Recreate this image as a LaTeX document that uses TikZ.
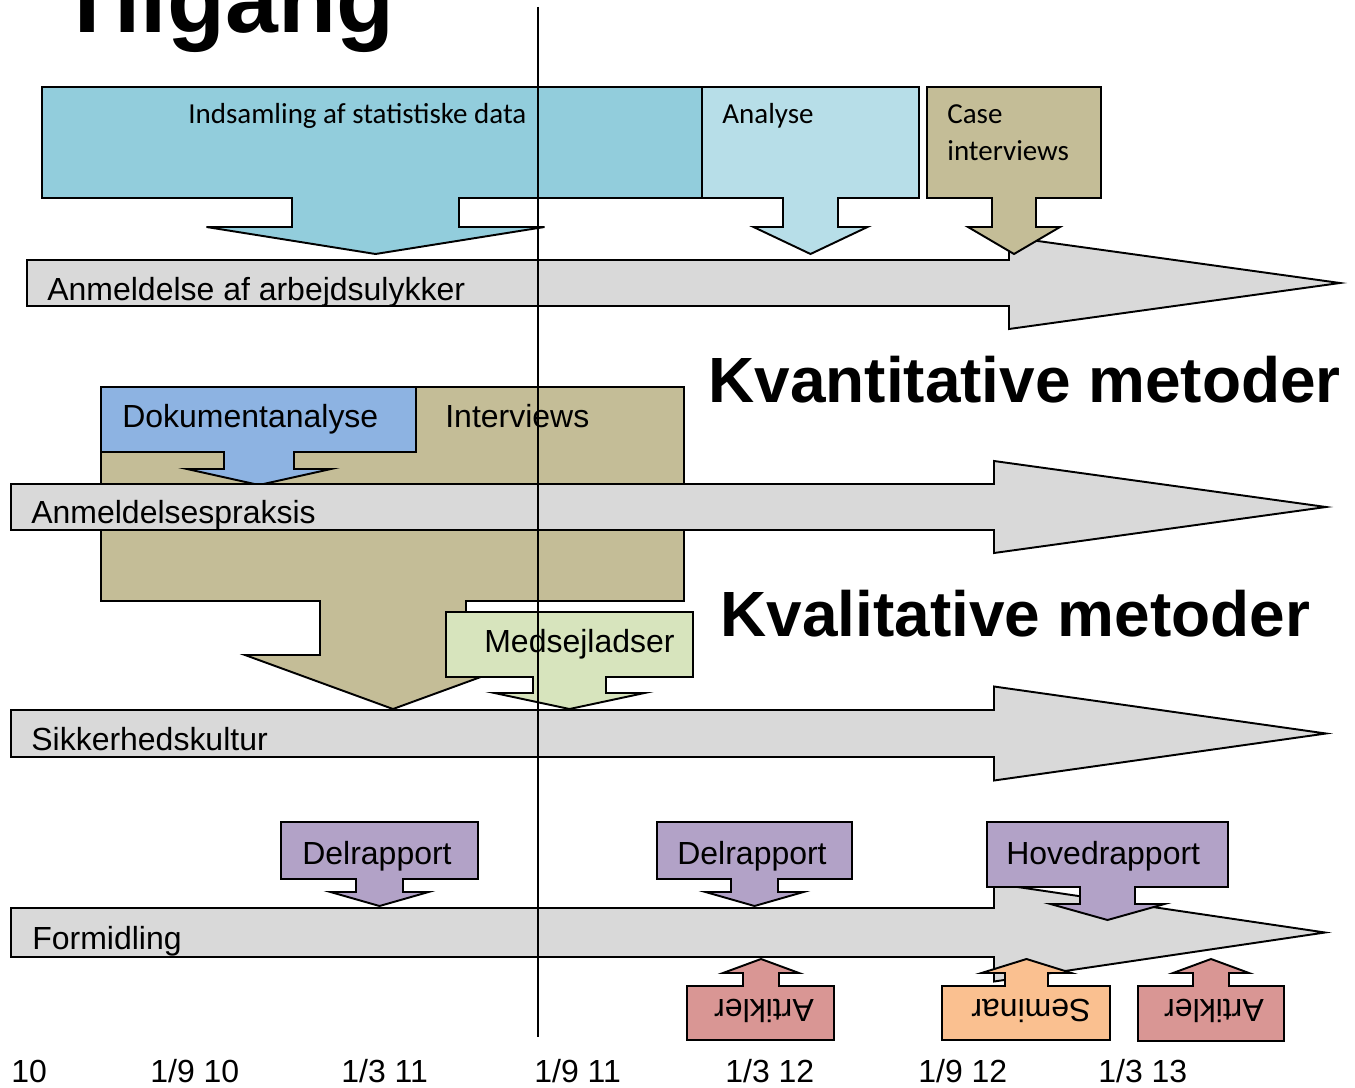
\documentclass[tikz,border=0pt]{standalone}
\usepackage{fontspec}
\setmainfont{Liberation Sans}
\newfontfamily\calibrifont{Carlito}

\definecolor{statblue}{HTML}{92CDDC}
\definecolor{anablue}{HTML}{B7DEE8}
\definecolor{tan}{HTML}{C4BD97}
\definecolor{dokblue}{HTML}{8DB3E2}
\definecolor{sejlgreen}{HTML}{D7E4BD}
\definecolor{bargray}{HTML}{D9D9D9}
\definecolor{rapviolet}{HTML}{B2A2C7}
\definecolor{artpink}{HTML}{D99694}
\definecolor{semorange}{HTML}{FAC090}

% box with an arrow out of one side: [style]{x1}{y1}{x2}{y2 (arrow side)}{shaft l}{shaft r}{head y}{tip y}
\newcommand{\boxarrow}[9][]{%
  \draw[boxarrow,#1] (#2,#3) -- (#4,#3) -- (#4,#5) -- (#7,#5) -- (#7,#8)
    -- ({#7+(#7-#6)/2+2},#8) -- ({(#6+#7)/2},#9)
    -- ({#6-(#7-#6)/2-2},#8) -- (#6,#8) -- (#6,#5) -- (#2,#5) -- cycle;}
% grey time arrow: {x start}{y top}{y bottom}{x head}{x tip}
\newcommand{\timearrow}[5]{%
  \draw[timebar] (#1,#2) -- (#4,#2) -- (#4,{#2-(#3-#2)/2}) -- (#5,{(#2+#3)/2})
    -- (#4,{#3+(#3-#2)/2}) -- (#4,#3) -- (#1,#3) -- cycle;}

\begin{document}
\begin{tikzpicture}[x=0.02cm, y=-0.02cm,
    boxarrow/.style={draw=black, line width=1.1pt, line join=miter},
    timebar/.style={fill=bargray, draw=black, line width=1.1pt},
    lbl/.style={inner sep=0, anchor=base west, font=\fontsize{18.2}{22}\selectfont},
    clbl/.style={inner sep=0, anchor=base west, font=\calibrifont\fontsize{16.5}{20}\selectfont},
    flip/.style={inner sep=0, rotate=180, font=\fontsize{18.2}{22}\selectfont},
    heading/.style={inner sep=0, anchor=base west, font=\bfseries\fontsize{36.4}{44}\selectfont}]
\useasboundingbox (0,0) rectangle (1355,1088);
\clip (0,0) rectangle (1355,1088);

\node[inner sep=0, anchor=base west, font=\bfseries\fontsize{54}{64}\selectfont] (tilgang) at (58,33) {Tilgang};

% kvantitative
\timearrow{27}{260}{306}{1009}{1340}
\node[lbl] (ulykker) at (47,300) {Anmeldelse af arbejdsulykker};
\boxarrow[fill=statblue]{42}{87}{702}{198}{292}{459}{227}{254}
\node[clbl] (indsamling) at (188,124) {Indsamling af statistiske data};
\boxarrow[fill=anablue]{702}{87}{919}{198}{783}{838}{227}{254}
\node[clbl] (analyse) at (722,124) {Analyse};
\boxarrow[fill=tan]{927}{87}{1101}{198}{992}{1036}{227}{254}
\node[clbl] (case) at (947,124) {Case};
\node[clbl] (caseint) at (947,160) {interviews};
\node[heading] (kvant) at (708,402) {Kvantitative metoder};

% kvalitative
\boxarrow[fill=tan]{101}{387}{684}{601}{320}{466}{655}{709}
\node[lbl] (interviews) at (445,427) {Interviews};
\boxarrow[fill=dokblue]{101}{387}{416}{452}{224}{294}{469}{485}
\node[lbl] (dokument) at (122,427) {Dokumentanalyse};
\timearrow{11}{484}{530}{994}{1326}
\node[lbl] (praksis) at (31,523) {Anmeldelsespraksis};
\timearrow{11}{710}{757}{994}{1326}
\node[lbl] (kultur) at (31,750) {Sikkerhedskultur};
\boxarrow[fill=sejlgreen]{446}{612}{693}{677}{533}{606}{693}{709}
\node[lbl] (sejlads) at (484,652) {Medsejladser};
\node[heading] (kval) at (720,636) {Kvalitative metoder};

% formidling
\timearrow{11}{908}{957}{994}{1325}
\node[lbl] (formidling) at (32,949) {Formidling};
\boxarrow[fill=rapviolet]{281}{822}{478}{879}{356}{403}{892}{906}
\node[lbl] (delrap1) at (302,864) {Delrapport};
\boxarrow[fill=rapviolet]{657}{822}{852}{879}{731}{778}{892}{906}
\node[lbl] (delrap2) at (677,864) {Delrapport};
\boxarrow[fill=rapviolet]{987}{822}{1228}{887}{1080}{1135}{904}{920}
\node[lbl] (hovedrap) at (1006,864) {Hovedrapport};
\boxarrow[fill=artpink]{687}{1040}{834}{986}{743}{779}{973}{959}
\node[flip] (artikel1) at (764,1011) {Artikler};
\boxarrow[fill=semorange]{942}{1040}{1110}{986}{1005}{1048}{973}{959}
\node[flip] (seminar) at (1031,1011) {Seminar};
\boxarrow[fill=artpink]{1138}{1041}{1284}{986}{1193}{1229}{973}{959}
\node[flip] (artikel2) at (1214,1011) {Artikler};

% tidslinje
\coordinate (nu top) at (538,7);
\coordinate (nu bund) at (538,1037);
\draw[line width=0.7pt] (nu top) -- (nu bund);
\node[lbl] (date0) at (11,1082) {10};
\foreach \x/\m/\y in {150/9/10, 341/3/11, 534/9/11, 725/3/12, 918/9/12, 1098/3/13}
  \node[lbl] (date\x) at (\x,1082) {1/\m\ \y};
\end{tikzpicture}
\end{document}
